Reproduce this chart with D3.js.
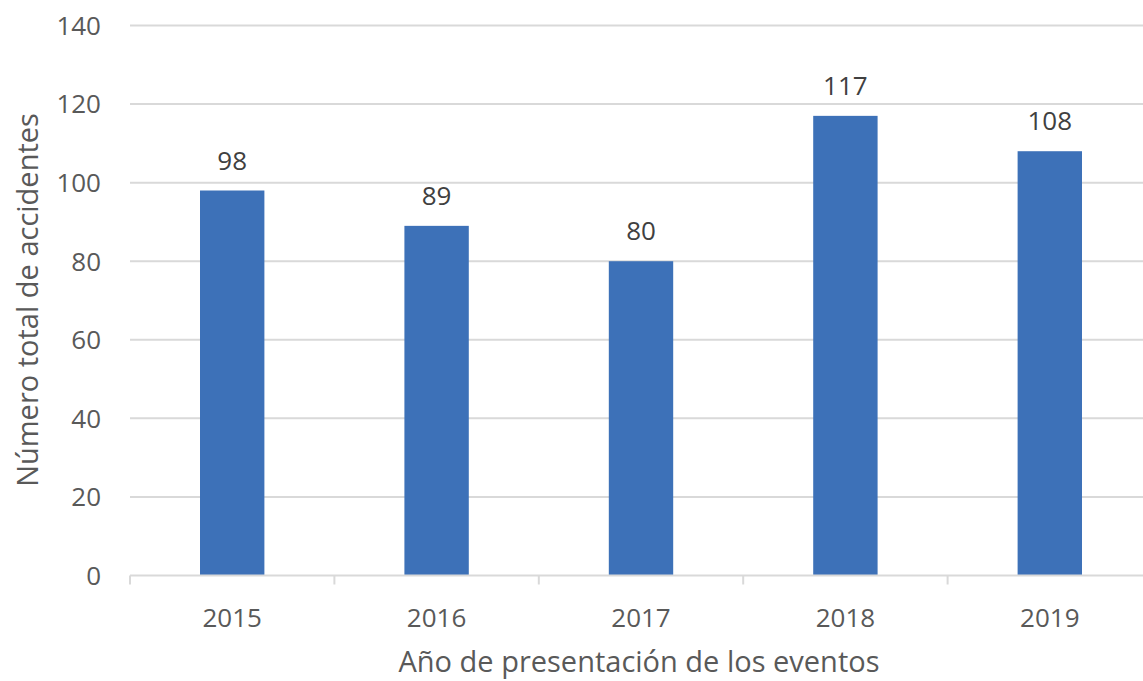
<!DOCTYPE html>
<html>
<head>
<meta charset="utf-8">
<script src="https://cdn.jsdelivr.net/npm/d3@7"></script>
<style>
  body { margin: 0; background: #fff; }
  text { font-family: "Open Sans", "Noto Sans", sans-serif; }
</style>
</head>
<body>
<svg id="chart" width="1143" height="681"></svg>
<script>
var years = ["2015", "2016", "2017", "2018", "2019"];
var accidents = [98, 89, 80, 117, 108];
var yTicks = [0, 20, 40, 60, 80, 100, 120, 140];

var svg = d3.select("#chart");

var x = d3.scaleBand()
    .domain(years)
    .range([130, 1152])
    .paddingInner(0.685)
    .paddingOuter(0.3425);

var y = d3.scaleLinear()
    .domain([0, 140])
    .range([575.5, 25.5]);

// grid lines
svg.selectAll(".grid")
    .data(yTicks.slice(1))
    .enter().append("line")
    .attr("x1", 130)
    .attr("x2", 1143)
    .attr("y1", function (d) { return y(d); })
    .attr("y2", function (d) { return y(d); })
    .style("stroke", "#d9d9d9")
    .style("stroke-width", 2);

// y tick labels
svg.selectAll(".ylab")
    .data(yTicks)
    .enter().append("text")
    .attr("x", 101)
    .attr("y", function (d) { return y(d); })
    .attr("dy", "0.36em")
    .attr("text-anchor", "end")
    .style("font-size", "26px")
    .style("fill", "#595959")
    .text(function (d) { return d; });

// bars
svg.selectAll(".bar")
    .data(accidents)
    .enter().append("rect")
    .attr("x", function (d, i) { return x(years[i]); })
    .attr("width", x.bandwidth())
    .attr("y", function (d) { return y(d); })
    .attr("height", function (d) { return y(0) - y(d); })
    .style("fill", "#3d71b8");

// data labels
svg.selectAll(".val")
    .data(accidents)
    .enter().append("text")
    .attr("x", function (d, i) { return x(years[i]) + x.bandwidth() / 2; })
    .attr("y", function (d) { return y(d) - 21; })
    .attr("text-anchor", "middle")
    .style("font-size", "26px")
    .style("fill", "#404040")
    .text(function (d) { return d; });

// x axis
var step = x.step();
var xAxis = svg.append("g");
xAxis.append("line")
    .attr("x1", 130).attr("x2", 1143)
    .attr("y1", y(0)).attr("y2", y(0))
    .style("stroke", "#d9d9d9").style("stroke-width", 2);
var bounds = d3.range(years.length + 1).map(function (i) { return 130 + i * step; });
xAxis.selectAll(".tick")
    .data(bounds)
    .enter().append("line")
    .attr("x1", function (d) { return d; })
    .attr("x2", function (d) { return d; })
    .attr("y1", y(0))
    .attr("y2", y(0) + 9)
    .style("stroke", "#d9d9d9").style("stroke-width", 2);

xAxis.selectAll(".xlab")
    .data(years)
    .enter().append("text")
    .attr("x", function (d) { return x(d) + x.bandwidth() / 2; })
    .attr("y", 627)
    .attr("text-anchor", "middle")
    .style("font-size", "26px")
    .style("fill", "#595959")
    .text(function (d) { return d; });

// axis titles
svg.append("text")
    .attr("x", 639)
    .attr("y", 672)
    .attr("text-anchor", "middle")
    .style("font-size", "29px")
    .style("fill", "#595959")
    .text("Año de presentación de los eventos");

svg.append("text")
    .attr("transform", "translate(38,300) rotate(-90)")
    .attr("text-anchor", "middle")
    .style("font-size", "29px")
    .style("fill", "#595959")
    .text("Número total de accidentes");
</script>
</body>
</html>
